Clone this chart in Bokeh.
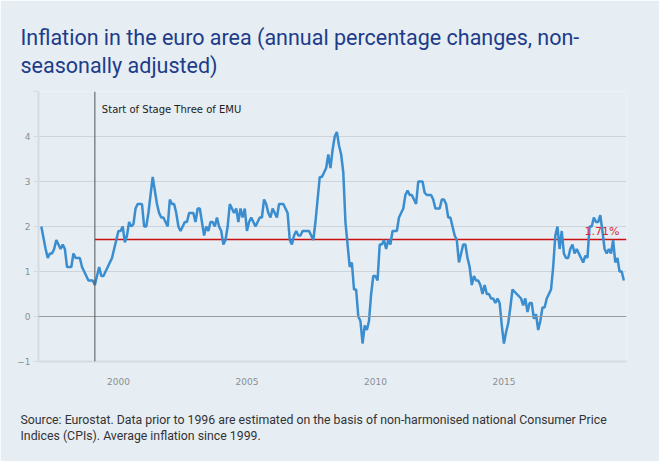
from bokeh.plotting import figure
from bokeh.models import Span, Label, FixedTicker, Title
from bokeh.embed import file_html
from bokeh.resources import INLINE

# ---- data: euro area HICP, annual % changes, monthly from Jan 1997 ----
start_year = 1997
v1997 = [2.0, 1.75, 1.5, 1.3, 1.4, 1.4, 1.5, 1.7, 1.6, 1.5, 1.6, 1.5]
v1998 = [1.1, 1.1, 1.1, 1.4, 1.3, 1.3, 1.3, 1.1, 1.0, 0.9, 0.8, 0.8]
v1999 = [0.8, 0.7, 0.9, 1.1, 0.9, 0.9, 1.0, 1.1, 1.2, 1.3, 1.5, 1.7]
v2000 = [1.9, 1.9, 2.0, 1.65, 1.8, 2.1, 2.0, 2.05, 2.4, 2.5, 2.5, 2.5]
v2001 = [2.0, 2.0, 2.3, 2.7, 3.1, 2.8, 2.5, 2.3, 2.2, 2.2, 2.1, 2.0]
v2002 = [2.6, 2.5, 2.5, 2.3, 2.0, 1.9, 2.0, 2.1, 2.1, 2.3, 2.3, 2.3]
v2003 = [2.1, 2.4, 2.4, 2.1, 1.8, 2.0, 1.9, 2.1, 2.1, 2.0, 2.2, 2.0]
v2004 = [1.9, 1.6, 1.7, 2.0, 2.5, 2.4, 2.3, 2.4, 2.1, 2.4, 2.2, 2.4]
v2005 = [1.9, 2.1, 2.2, 2.1, 2.0, 2.1, 2.2, 2.2, 2.6, 2.5, 2.3, 2.2]
v2006 = [2.4, 2.3, 2.2, 2.5, 2.5, 2.5, 2.4, 2.3, 1.7, 1.6, 1.8, 1.9]
v2007 = [1.8, 1.8, 1.9, 1.9, 1.9, 1.9, 1.8, 1.7, 2.1, 2.6, 3.1, 3.1]
v2008 = [3.2, 3.3, 3.6, 3.3, 3.7, 4.0, 4.1, 3.8, 3.6, 3.2, 2.1, 1.6]
v2009 = [1.1, 1.2, 0.6, 0.6, 0.0, -0.1, -0.6, -0.2, -0.3, -0.1, 0.5, 0.9]
v2010 = [0.9, 0.8, 1.6, 1.6, 1.7, 1.5, 1.7, 1.6, 1.9, 1.9, 1.9, 2.2]
v2011 = [2.3, 2.4, 2.7, 2.8, 2.7, 2.7, 2.6, 2.5, 3.0, 3.0, 3.0, 2.75]
v2012 = [2.7, 2.7, 2.7, 2.6, 2.4, 2.4, 2.4, 2.6, 2.6, 2.5, 2.2, 2.2]
v2013 = [2.0, 1.8, 1.7, 1.2, 1.4, 1.6, 1.6, 1.3, 1.1, 0.7, 0.9, 0.8]
v2014 = [0.8, 0.7, 0.5, 0.7, 0.5, 0.5, 0.4, 0.4, 0.3, 0.4, 0.3, -0.2]
v2015 = [-0.6, -0.35, -0.15, 0.2, 0.6, 0.55, 0.5, 0.45, 0.4, 0.25, 0.4, 0.1]
v2016 = [0.3, 0.3, -0.05, 0.05, -0.3, -0.1, 0.2, 0.2, 0.4, 0.5, 0.6, 1.1]
v2017 = [1.8, 2.0, 1.5, 1.9, 1.4, 1.3, 1.3, 1.5, 1.6, 1.4, 1.5, 1.4]
v2018 = [1.3, 1.2, 1.35, 1.3, 2.0, 2.0, 2.2, 2.1, 2.1, 2.25, 1.9, 1.5]
v2019 = [1.4, 1.5, 1.4, 1.7, 1.2, 1.3, 1.0, 1.0, 0.8]

avg_since_1999 = 1.71
emu_start = 1999 + 1 / 12
x_ticks = [2000, 2005, 2010, 2015]
y_ticks = [-1, 0, 1, 2, 3, 4, 5]

title_lines = ["Inflation in the euro area (annual percentage changes, non-",
               "seasonally adjusted)"]
note_lines = ["Source: Eurostat. Data prior to 1996 are estimated on the basis of non-harmonised national Consumer Price",
              "Indices (CPIs). Average inflation since 1999."]
emu_text = "Start of Stage Three of EMU"
avg_text = "1.71%"

values = (v1997 + v1998 + v1999 + v2000 + v2001 + v2002 + v2003 + v2004 + v2005 +
          v2006 + v2007 + v2008 + v2009 + v2010 + v2011 + v2012 + v2013 + v2014 +
          v2015 + v2016 + v2017 + v2018 + v2019)
dates = [start_year + i / 12 for i in range(len(values))]

BG = "#e6edf3"
X_END = 2019.77

p = figure(width=659, height=461, x_range=(1996.89, X_END), y_range=(-1, 5),
           output_backend="svg", toolbar_location=None,
           min_border_left=38, min_border_right=33, min_border_top=91, min_border_bottom=100)
p.background_fill_color = BG
p.border_fill_color = BG
p.outline_line_color = None

p.xgrid.grid_line_color = None
p.ygrid.grid_line_color = "#cdd4db"
p.ygrid.grid_line_width = 1

p.xaxis.ticker = FixedTicker(ticks=x_ticks)
p.yaxis.ticker = FixedTicker(ticks=y_ticks)
p.yaxis.major_label_overrides = {5: ""}
for ax in (p.xaxis, p.yaxis):
    ax.axis_line_color = "#d5dbe1"
    ax.axis_line_width = 2
    ax.minor_tick_line_color = None
    ax.major_label_text_font = "DejaVu Sans"
    ax.major_label_text_font_size = "9px"
    ax.major_label_text_color = "#8a8f94"
p.xaxis.major_tick_line_color = None
p.xaxis.major_label_standoff = 10
p.yaxis.major_tick_line_color = "#d5dbe1"
p.yaxis.major_tick_out = 5
p.yaxis.major_tick_in = 0
p.yaxis.major_label_standoff = 3

p.add_layout(Span(location=0, dimension="width", line_color="#9a9a9a", line_width=1))
p.add_layout(Span(location=emu_start, dimension="height", line_color="#555555", line_width=1))

p.line([emu_start, X_END], [avg_since_1999, avg_since_1999], line_color="#cc1111", line_width=1.5)
p.line(dates, values, line_color="#3a8dcf", line_width=2.5)

p.add_layout(Label(x=emu_start, y=4.6, x_offset=7, text=emu_text, text_baseline="middle",
                   text_font="DejaVu Sans", text_font_size="10px", text_color="#222222"))
p.add_layout(Label(x=2019.5, y=avg_since_1999, y_offset=2, text=avg_text, text_align="right",
                   text_baseline="bottom", text_font="DejaVu Sans", text_font_size="11px",
                   text_color="#d42a2a"))

# title (two lines, above) and source note (two lines, below)
p.add_layout(Title(text="\n".join(title_lines), align="left", offset=-18, standoff=27,
                   text_font="Roboto", text_font_size="21.5px", text_font_style="normal",
                   text_line_height=1.12, text_color="#1d3c8a"), "above")
# thin spacer between the x axis and the source note
p.add_layout(Title(text=" ", align="left", standoff=19, text_font_size="1px",
                   text_color=BG), "below")
p.add_layout(Title(text="\n".join(note_lines), align="left", offset=-18, standoff=4,
                   text_font="Roboto", text_font_size="12.3px", text_font_style="normal",
                   text_line_height=1.15, text_color="#333333"), "below")

open("out.html", "w").write(file_html(p, INLINE))
